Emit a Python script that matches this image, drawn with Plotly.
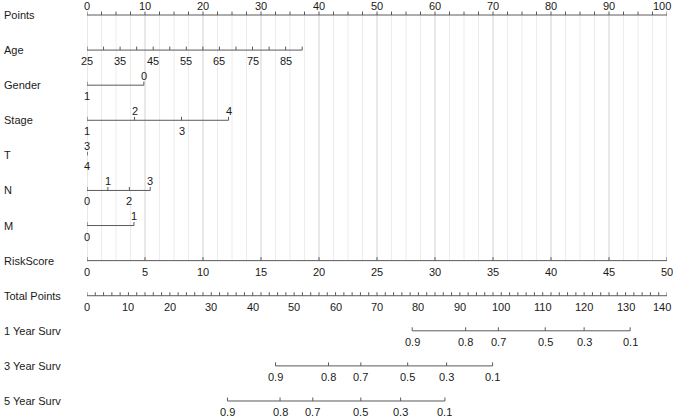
import plotly.graph_objects as go

# ---------------- data ----------------
row_names = ["Points", "Age", "Gender", "Stage", "T", "N", "M", "RiskScore",
             "Total Points", "1 Year Surv", "3 Year Surv", "5 Year Surv"]

points_labels = list(range(0, 101, 10))
points_minor_step = 2.5

age_min, age_max = 25, 90
age_points_at_max = 37.1
age_tick_values = list(range(25, 91, 5))
age_label_values = [25, 35, 45, 55, 65, 75, 85]

gender_levels = ["1", "0"]
gender_points = [0, 9.8]
gender_sides = ["below", "above"]

stage_levels = ["1", "2", "3", "4"]
stage_points = [0, 8.2, 16.3, 24.4]
stage_sides = ["below", "above", "below", "above"]

t_levels = ["3", "4"]
t_points = [0, 0]
t_sides = ["above", "below"]

n_levels = ["0", "1", "2", "3"]
n_points = [0, 3.6, 7.3, 10.9]
n_sides = ["below", "above", "below", "above"]

m_levels = ["0", "1"]
m_points = [0, 8.1]
m_sides = ["below", "above"]

risk_values = list(range(0, 51, 5))
risk_points_per_unit = 2.0

total_labels = list(range(0, 141, 10))
total_minor_step = 2

surv_labels = ["0.9", "0.8", "0.7", "0.5", "0.3", "0.1"]
surv1_total = [78.5, 91.4, 99.3, 110.6, 120.0, 131.1]
surv3_total = [45.5, 58.3, 66.1, 77.4, 86.8, 97.9]
surv5_total = [33.9, 46.6, 54.5, 66.1, 75.7, 86.4]

# ---------------- style / layout ----------------
W, H = 673, 417
X0_PX, X1_PX = 87, 667
ROW0_PX, ROW_STEP = 15, 35.09
FONT = "Liberation Sans, Arial, Helvetica, sans-serif"
TXT = "#1a1a1a"
AXC = "#5a5a5a"
TICK = 3.5 / ROW_STEP
UP, DOWN = 9.5, -11

fig = go.Figure()
ann = []


def seg_trace(xs_pairs, ys_pairs, color, width, xaxis="x"):
    xs, ys = [], []
    for (xa, xb), (ya, yb) in zip(xs_pairs, ys_pairs):
        xs += [xa, xb, None]
        ys += [ya, yb, None]
    fig.add_trace(go.Scatter(x=xs, y=ys, mode="lines", xaxis=xaxis, yaxis="y",
                             line=dict(color=color, width=width),
                             hoverinfo="skip", showlegend=False))


def label(x, row, text, side, xref="x", at_edge=False):
    d = dict(x=x, y=row, xref=xref, yref="y", text=text, showarrow=False,
             yshift=UP if side == "above" else DOWN,
             font=dict(family=FONT, size=11, color=TXT))
    if at_edge:
        d.update(xanchor="right", xshift=6)
    ann.append(d)


def axis_row(row, tick_pos, labels, label_pos, sides, xaxis="x", xmax=None):
    lo, hi = min(tick_pos), max(tick_pos)
    pairs = [(lo, hi)] + [(p, p) for p in tick_pos]
    ypairs = [(row, row)] + [(row, row - TICK) for _ in tick_pos]
    seg_trace(pairs, ypairs, AXC, 1, xaxis)
    xref = "x" if xaxis == "x" else "x2"
    for p, t, s in zip(label_pos, labels, sides):
        label(p, row, t, s, xref, at_edge=(xmax is not None and p == xmax and len(t) > 2))


# grid lines (points scale) from Points row to RiskScore row
risk_row = row_names.index("RiskScore")
n_minor = int(100 / points_minor_step)
minor = [i * points_minor_step for i in range(n_minor + 1)]
minor_only = [v for v in minor if v % 10 != 0]
seg_trace([(v, v) for v in minor_only], [(0, risk_row)] * len(minor_only), "#ececec", 1)
seg_trace([(v, v) for v in points_labels],
          [(0, risk_row)] * len(points_labels), "#d2d2d2", 1)

# Points
axis_row(0, minor, [str(v) for v in points_labels], points_labels,
         ["above"] * len(points_labels), xmax=100)

# Age
def age_to_pts(a):
    return (a - age_min) / (age_max - age_min) * age_points_at_max

axis_row(1, [age_to_pts(a) for a in age_tick_values],
         [str(a) for a in age_label_values],
         [age_to_pts(a) for a in age_label_values],
         ["below"] * len(age_label_values))

# categorical
axis_row(2, gender_points, gender_levels, gender_points, gender_sides)
axis_row(3, stage_points, stage_levels, stage_points, stage_sides)
axis_row(4, t_points, t_levels, t_points, t_sides)
axis_row(5, n_points, n_levels, n_points, n_sides)
axis_row(6, m_points, m_levels, m_points, m_sides)

# RiskScore
rp = [v * risk_points_per_unit for v in risk_values]
axis_row(7, rp, [str(v) for v in risk_values], rp, ["below"] * len(risk_values))

# Total points (x2)
tmin = [i * total_minor_step for i in range(int(140 / total_minor_step) + 1)]
axis_row(8, tmin, [str(v) for v in total_labels], total_labels,
         ["below"] * len(total_labels), xaxis="x2", xmax=140)

# survival rows
for r, vals in zip([9, 10, 11], [surv1_total, surv3_total, surv5_total]):
    axis_row(r, vals, surv_labels, vals, ["below"] * len(vals), xaxis="x2")

# row names
for i, name in enumerate(row_names):
    ann.append(dict(x=2 / W, y=i, xref="paper", yref="y", text=name, showarrow=False,
                    xanchor="left", font=dict(family=FONT, size=11, color=TXT)))

dom = [X0_PX / W, X1_PX / W]
y_top = -ROW0_PX / ROW_STEP
y_bot = (H - ROW0_PX) / ROW_STEP
fig.update_layout(
    width=W, height=H, margin=dict(l=0, r=0, t=0, b=0),
    paper_bgcolor="white", plot_bgcolor="white",
    xaxis=dict(domain=dom, range=[0, 100], visible=False, fixedrange=True),
    xaxis2=dict(domain=dom, range=[0, 140], visible=False, overlaying="x",
                anchor="y", fixedrange=True),
    yaxis=dict(range=[y_bot, y_top], visible=False, fixedrange=True),
    annotations=ann, showlegend=False,
)
fig.write_html("out.html", config={"displayModeBar": False},
               post_script="document.body.style.margin='0';document.body.style.padding='0';")
